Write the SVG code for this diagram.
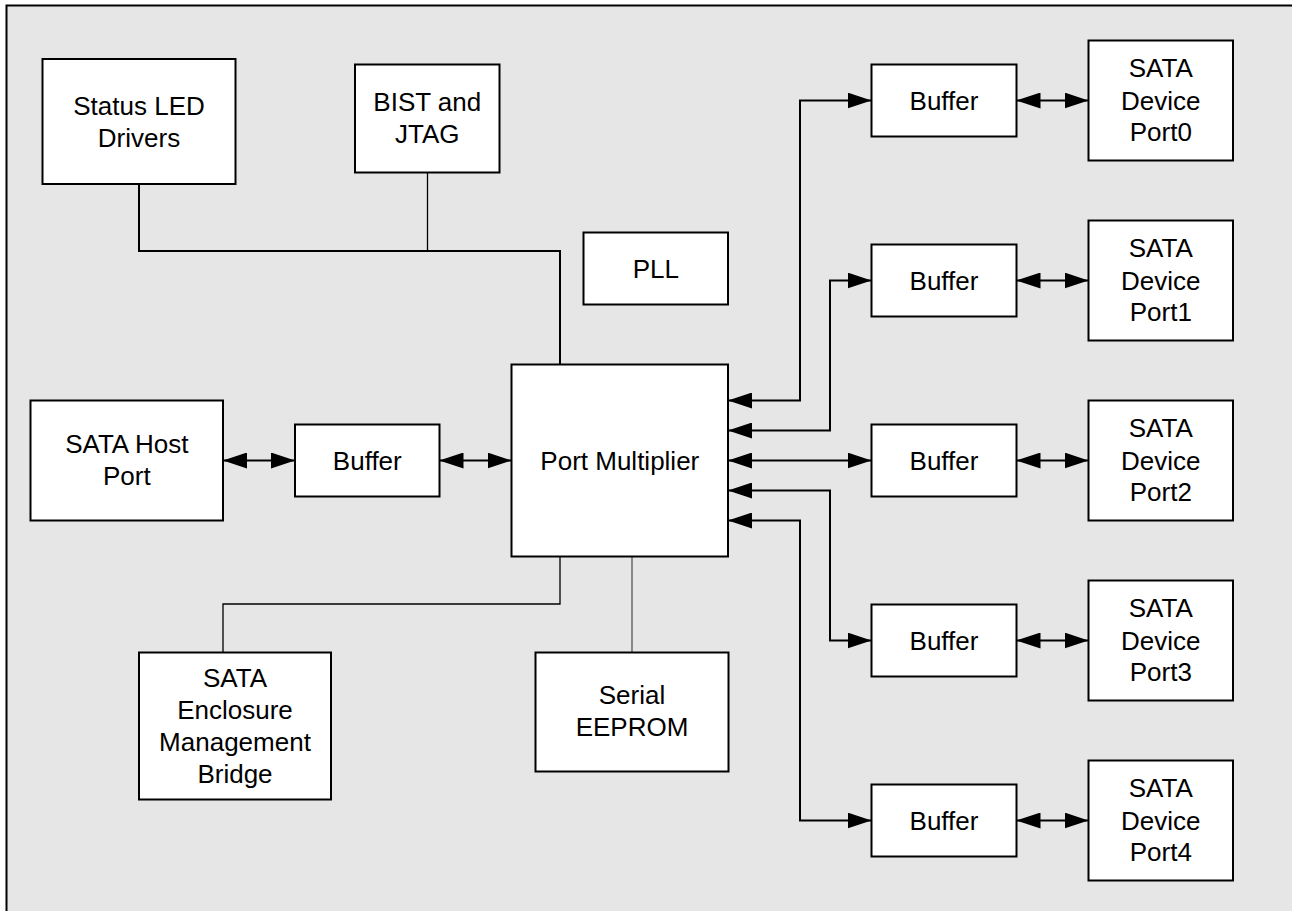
<svg xmlns="http://www.w3.org/2000/svg" width="1292" height="911" viewBox="0 0 1292 911">
<style>
.box{fill:#fff;stroke:#000;stroke-width:2}
.t{font-family:"Liberation Sans",Arial,sans-serif;font-size:26px;fill:#000;text-anchor:middle}
.bus{fill:none;stroke:#000;stroke-width:2}
.thin{fill:none;stroke:#000;stroke-width:1.3}
.gray{fill:none;stroke:#555;stroke-width:1.3}
</style>
<defs>
<marker id="ah" viewBox="0 0 24 16" markerWidth="24" markerHeight="16" refX="24" refY="8" orient="auto-start-reverse" markerUnits="userSpaceOnUse">
<path d="M0,0 L24,8 L0,16 Z" fill="#000"/>
</marker>
</defs>
<rect x="0" y="0" width="1292" height="911" fill="#fff"/>
<rect x="6.5" y="5.5" width="1300" height="920" fill="#e6e6e6" stroke="#000" stroke-width="2"/>

<g id="connectors">
<path class="bus" d="M139 184 V251 H560 V364.5"/>
<path class="thin" d="M427.5 172.5 V251"/>
<path class="thin" d="M223 652.5 V604 H560 V556.5"/>
<path class="gray" d="M632 556.5 V652.5"/>
<path class="bus" d="M223 460.5 H295" marker-start="url(#ah)" marker-end="url(#ah)"/>
<path class="bus" d="M439.5 460.5 H511.5" marker-start="url(#ah)" marker-end="url(#ah)"/>
<path class="bus" d="M728 400.5 H800 V100.5 H871.5" marker-start="url(#ah)" marker-end="url(#ah)"/>
<path class="bus" d="M728 430.5 H830 V280.5 H871.5" marker-start="url(#ah)" marker-end="url(#ah)"/>
<path class="bus" d="M728 460.5 H871.5" marker-start="url(#ah)" marker-end="url(#ah)"/>
<path class="bus" d="M728 490.5 H830 V640.5 H871.5" marker-start="url(#ah)" marker-end="url(#ah)"/>
<path class="bus" d="M728 520.5 H800 V820.5 H871.5" marker-start="url(#ah)" marker-end="url(#ah)"/>
<path class="bus" d="M1016.5 100.5 H1088.5" marker-start="url(#ah)" marker-end="url(#ah)"/>
<path class="bus" d="M1016.5 280.5 H1088.5" marker-start="url(#ah)" marker-end="url(#ah)"/>
<path class="bus" d="M1016.5 460.5 H1088.5" marker-start="url(#ah)" marker-end="url(#ah)"/>
<path class="bus" d="M1016.5 640.5 H1088.5" marker-start="url(#ah)" marker-end="url(#ah)"/>
<path class="bus" d="M1016.5 820.5 H1088.5" marker-start="url(#ah)" marker-end="url(#ah)"/>
</g>

<g id="status-led">
<rect class="box" x="42.5" y="59" width="193" height="125"/>
<text class="t" x="139" y="114.5">Status LED</text>
<text class="t" x="139" y="146.5">Drivers</text>
</g>
<g id="bist">
<rect class="box" x="355" y="64.5" width="144.5" height="108"/>
<text class="t" x="427.3" y="111">BIST and</text>
<text class="t" x="427.3" y="143">JTAG</text>
</g>
<g id="pll">
<rect class="box" x="583.5" y="232.5" width="144.5" height="72"/>
<text class="t" x="655.8" y="277.8">PLL</text>
</g>
<g id="port-multiplier">
<rect class="box" x="511.5" y="364.5" width="216.5" height="192"/>
<text class="t" x="619.8" y="469.8">Port Multiplier</text>
</g>
<g id="host-port">
<rect class="box" x="30.5" y="400.5" width="192.5" height="120"/>
<text class="t" x="126.8" y="453">SATA Host</text>
<text class="t" x="126.8" y="485">Port</text>
</g>
<g id="host-buffer">
<rect class="box" x="295" y="424.5" width="144.5" height="72"/>
<text class="t" x="367.3" y="469.8">Buffer</text>
</g>
<g id="enclosure">
<rect class="box" x="139" y="652.5" width="192" height="147"/>
<text class="t" x="235" y="686.5">SATA</text>
<text class="t" x="235" y="718.5">Enclosure</text>
<text class="t" x="235" y="750.5">Management</text>
<text class="t" x="235" y="782.5">Bridge</text>
</g>
<g id="eeprom">
<rect class="box" x="535.5" y="652.5" width="193" height="119"/>
<text class="t" x="632" y="703.5">Serial</text>
<text class="t" x="632" y="735.5">EEPROM</text>
</g>

<g id="buffer0"><rect class="box" x="871.5" y="64.5" width="145" height="72"/><text class="t" x="944" y="109.8">Buffer</text></g>
<g id="buffer1"><rect class="box" x="871.5" y="244.5" width="145" height="72"/><text class="t" x="944" y="289.8">Buffer</text></g>
<g id="buffer2"><rect class="box" x="871.5" y="424.5" width="145" height="72"/><text class="t" x="944" y="469.8">Buffer</text></g>
<g id="buffer3"><rect class="box" x="871.5" y="604.5" width="145" height="72"/><text class="t" x="944" y="649.8">Buffer</text></g>
<g id="buffer4"><rect class="box" x="871.5" y="784.5" width="145" height="72"/><text class="t" x="944" y="829.8">Buffer</text></g>

<g id="device0"><rect class="box" x="1088.5" y="40.5" width="144.5" height="120"/><text class="t" x="1160.8" y="77">SATA</text><text class="t" x="1160.8" y="109.5">Device</text><text class="t" x="1160.8" y="141">Port0</text></g>
<g id="device1"><rect class="box" x="1088.5" y="220.5" width="144.5" height="120"/><text class="t" x="1160.8" y="257">SATA</text><text class="t" x="1160.8" y="289.5">Device</text><text class="t" x="1160.8" y="321">Port1</text></g>
<g id="device2"><rect class="box" x="1088.5" y="400.5" width="144.5" height="120"/><text class="t" x="1160.8" y="437">SATA</text><text class="t" x="1160.8" y="469.5">Device</text><text class="t" x="1160.8" y="501">Port2</text></g>
<g id="device3"><rect class="box" x="1088.5" y="580.5" width="144.5" height="120"/><text class="t" x="1160.8" y="617">SATA</text><text class="t" x="1160.8" y="649.5">Device</text><text class="t" x="1160.8" y="681">Port3</text></g>
<g id="device4"><rect class="box" x="1088.5" y="760.5" width="144.5" height="120"/><text class="t" x="1160.8" y="797">SATA</text><text class="t" x="1160.8" y="829.5">Device</text><text class="t" x="1160.8" y="861">Port4</text></g>
</svg>
